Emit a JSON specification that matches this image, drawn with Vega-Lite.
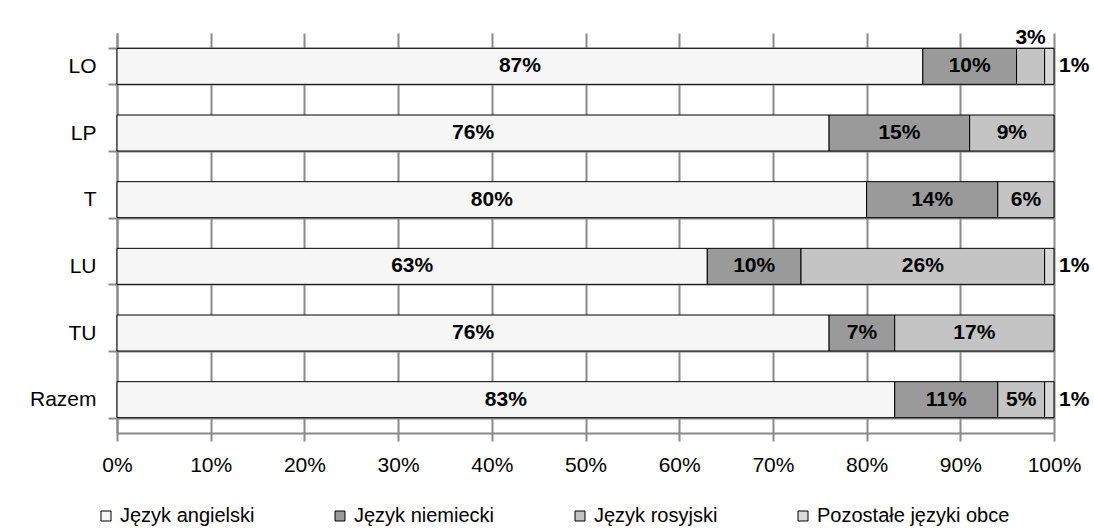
{
  "$schema": "https://vega.github.io/schema/vega-lite/v6.json",
  "width": 937,
  "height": 400,
  "autosize": {"type": "none"},
  "padding": {"left": 117, "top": 33, "right": 40, "bottom": 97},
  "background": "white",
  "config": {"font": "Liberation Sans", "view": {"stroke": null}},
  "data": {
    "values": [
      {"grupa": "LO", "jezyk": "Język angielski", "wartosc": 86, "etykieta": "87%"},
      {"grupa": "LO", "jezyk": "Język niemiecki", "wartosc": 10, "etykieta": "10%"},
      {"grupa": "LO", "jezyk": "Język rosyjski", "wartosc": 3, "etykieta": "3%"},
      {"grupa": "LO", "jezyk": "Pozostałe języki obce", "wartosc": 1, "etykieta": "1%"},
      {"grupa": "LP", "jezyk": "Język angielski", "wartosc": 76, "etykieta": "76%"},
      {"grupa": "LP", "jezyk": "Język niemiecki", "wartosc": 15, "etykieta": "15%"},
      {"grupa": "LP", "jezyk": "Język rosyjski", "wartosc": 9, "etykieta": "9%"},
      {"grupa": "T", "jezyk": "Język angielski", "wartosc": 80, "etykieta": "80%"},
      {"grupa": "T", "jezyk": "Język niemiecki", "wartosc": 14, "etykieta": "14%"},
      {"grupa": "T", "jezyk": "Język rosyjski", "wartosc": 6, "etykieta": "6%"},
      {"grupa": "LU", "jezyk": "Język angielski", "wartosc": 63, "etykieta": "63%"},
      {"grupa": "LU", "jezyk": "Język niemiecki", "wartosc": 10, "etykieta": "10%"},
      {"grupa": "LU", "jezyk": "Język rosyjski", "wartosc": 26, "etykieta": "26%"},
      {"grupa": "LU", "jezyk": "Pozostałe języki obce", "wartosc": 1, "etykieta": "1%"},
      {"grupa": "TU", "jezyk": "Język angielski", "wartosc": 76, "etykieta": "76%"},
      {"grupa": "TU", "jezyk": "Język niemiecki", "wartosc": 7, "etykieta": "7%"},
      {"grupa": "TU", "jezyk": "Język rosyjski", "wartosc": 17, "etykieta": "17%"},
      {"grupa": "Razem", "jezyk": "Język angielski", "wartosc": 83, "etykieta": "83%"},
      {"grupa": "Razem", "jezyk": "Język niemiecki", "wartosc": 11, "etykieta": "11%"},
      {"grupa": "Razem", "jezyk": "Język rosyjski", "wartosc": 5, "etykieta": "5%"},
      {"grupa": "Razem", "jezyk": "Pozostałe języki obce", "wartosc": 1, "etykieta": "1%"}
    ]
  },
  "transform": [
    {"calculate": "indexof(['Język angielski','Język niemiecki','Język rosyjski','Pozostałe języki obce'], datum.jezyk)", "as": "kolejnosc"},
    {"stack": "wartosc", "groupby": ["grupa"], "sort": [{"field": "kolejnosc"}], "as": ["x0", "x1"]},
    {"calculate": "(datum.x0 + datum.x1) / 2", "as": "xm"}
  ],
  "layer": [
    {
      "mark": {"type": "bar", "stroke": "black", "strokeWidth": 1},
      "encoding": {
        "y": {
          "field": "grupa", "type": "nominal",
          "sort": ["LO", "LP", "T", "LU", "TU", "Razem"],
          "scale": {"paddingInner": 0.46, "paddingOuter": 0.23},
          "axis": {
            "title": null, "domainColor": "#8a8a8a", "domainWidth": 2,
            "tickColor": "#8a8a8a", "tickWidth": 2, "tickSize": 9, "tickBand": "extent",
            "grid": true, "gridColor": "#8a8a8a", "gridWidth": 2,
            "labelFontSize": 21, "labelColor": "black", "labelPadding": 12
          }
        },
        "x": {
          "field": "x0", "type": "quantitative",
          "scale": {"domain": [0, 100]},
          "axis": {
            "title": null, "values": [0, 10, 20, 30, 40, 50, 60, 70, 80, 90, 100],
            "labelExpr": "datum.value + '%'", "labelFlush": false,
            "domainColor": "#8a8a8a", "domainWidth": 2,
            "tickColor": "#8a8a8a", "tickWidth": 2, "tickSize": 8,
            "grid": true, "gridColor": "#8a8a8a", "gridWidth": 2,
            "labelFontSize": 21, "labelColor": "black", "labelPadding": 13
          }
        },
        "x2": {"field": "x1"},
        "fill": {
          "field": "jezyk", "type": "nominal",
          "scale": {
            "domain": ["Język angielski", "Język niemiecki", "Język rosyjski", "Pozostałe języki obce"],
            "range": ["#f6f6f6", "#9a9a9a", "#c4c4c4", "#dadada"]
          },
          "legend": {
            "title": null, "orient": "none", "legendX": -21, "legendY": 473,
            "direction": "horizontal", "columns": 4, "symbolType": "square", "symbolSize": 100,
            "symbolStrokeColor": "black", "symbolStrokeWidth": 1,
            "labelFontSize": 20, "labelColor": "black", "labelOffset": 4, "labelLimit": 400,
            "columnPadding": 75
          }
        }
      }
    },
    {
      "transform": [{"filter": "datum.wartosc >= 2 && !(datum.grupa == 'LO' && datum.jezyk == 'Język rosyjski')"}],
      "mark": {"type": "text", "fontWeight": "bold", "fontSize": 21, "color": "black"},
      "encoding": {
        "y": {"field": "grupa", "type": "nominal", "sort": ["LO", "LP", "T", "LU", "TU", "Razem"]},
        "x": {"field": "xm", "type": "quantitative"},
        "text": {"field": "etykieta"}
      }
    },
    {
      "transform": [{"filter": "datum.jezyk == 'Pozostałe języki obce'"}],
      "mark": {"type": "text", "fontWeight": "bold", "fontSize": 21, "color": "black", "align": "left", "dx": 5},
      "encoding": {
        "y": {"field": "grupa", "type": "nominal", "sort": ["LO", "LP", "T", "LU", "TU", "Razem"]},
        "x": {"field": "x1", "type": "quantitative"},
        "text": {"field": "etykieta"}
      }
    },
    {
      "transform": [{"filter": "datum.grupa == 'LO' && datum.jezyk == 'Język rosyjski'"}],
      "mark": {"type": "text", "fontWeight": "bold", "fontSize": 21, "color": "black", "dy": -28},
      "encoding": {
        "y": {"field": "grupa", "type": "nominal", "sort": ["LO", "LP", "T", "LU", "TU", "Razem"]},
        "x": {"field": "xm", "type": "quantitative"},
        "text": {"field": "etykieta"}
      }
    }
  ]
}
